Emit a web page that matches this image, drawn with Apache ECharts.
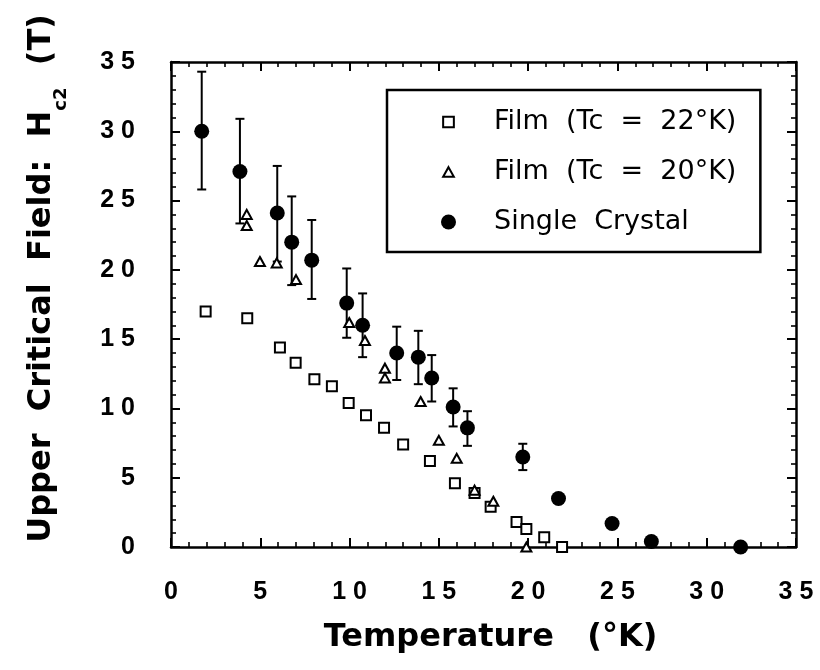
<!DOCTYPE html>
<html>
<head>
<meta charset="utf-8">
<script src="https://cdn.jsdelivr.net/npm/echarts@6/dist/echarts.min.js"></script>
<style>
  html, body { margin: 0; padding: 0; background: #fff; }
  #chart { width: 820px; height: 670px; }
</style>
</head>
<body>
<div id="chart"></div>
<script>
// Upper critical field vs temperature: two films and a single crystal.

// Film with Tc = 22 K
const film22T = [1.94, 4.27, 6.1, 6.98, 8.03, 9.01, 9.95, 10.92, 11.93, 13.0, 14.5, 15.9, 17.0, 17.9, 19.35, 19.9, 20.9, 21.9];
const film22H = [17.0, 16.5, 14.4, 13.3, 12.1, 11.6, 10.4, 9.5, 8.6, 7.4, 6.2, 4.6, 3.9, 2.9, 1.8, 1.3, 0.7, 0.0];

// Film with Tc = 20 K
const film20T = [4.24, 4.24, 4.98, 5.92, 7.0, 9.98, 10.86, 11.98, 11.98, 13.98, 15.0, 16.0, 17.0, 18.05, 19.9];
const film20H = [24.0, 23.2, 20.6, 20.5, 19.3, 16.2, 14.9, 12.9, 12.2, 10.5, 7.7, 6.4, 4.1, 3.3, 0.0];

// Single crystal, with error bar limits (null = no bar)
const crystalT  = [1.72, 3.86, 5.95, 6.76, 7.88, 9.84, 10.73, 12.64, 13.85, 14.6, 15.8, 16.6, 19.7, 21.7, 24.7, 26.9, 31.9];
const crystalH  = [30.0, 27.1, 24.1, 22.0, 20.7, 17.6, 16.0, 14.0, 13.7, 12.2, 10.1, 8.6, 6.5, 3.5, 1.7, 0.4, 0.0];
const crystalHi = [34.3, 30.9, 27.5, 25.3, 23.6, 20.1, 18.3, 15.9, 15.6, 13.85, 11.45, 9.8, 7.45, null, null, null, null];
const crystalLo = [25.8, 23.35, 20.6, 18.9, 17.9, 15.1, 13.7, 12.05, 11.75, 10.5, 8.7, 7.3, 5.55, null, null, null, null];

// Axis ranges and series names
const xRange = [0, 35];
const yRange = [0, 35];
const tickStep = 5;
const seriesNames = ['Film  (Tc  =  22°K)', 'Film  (Tc  =  20°K)', 'Single  Crystal'];

const TICK_FONT = 'Liberation Sans, Arial, Helvetica, sans-serif';
const TEXT_FONT = 'DejaVu Sans, Verdana, sans-serif';

const zip = (xs, ys) => xs.map((x, i) => [x, ys[i]]);
const errData = crystalT
  .map((t, i) => [t, crystalLo[i], crystalHi[i]])
  .filter(d => d[1] !== null && d[2] !== null);

// spaced digits, e.g. "3 5"
const spacedDigits = v => String(v).split('').join(' ');

const hollow = { color: '#fff', borderColor: '#000', borderWidth: 2, opacity: 1 };

// legend icons: invisible move-to points pad the box so the drawn shape is smaller
const squareIcon = 'path://M-2,-2 M12,12 M0,0 L10,0 L10,10 L0,10 Z';
const triangleIcon = 'path://M-2,-2 M12,12 M5,0.5 L10,9.5 L0,9.5 Z';

const frameTick = {
  axisLine: { show: true, onZero: false, lineStyle: { color: '#000', width: 2.5 } },
  axisTick: { show: true, inside: true, length: 9, lineStyle: { color: '#000', width: 2 } },
  minorTick: { show: true, splitNumber: 5, length: 5, lineStyle: { color: '#000', width: 1.6 } },
  splitLine: { show: false },
  minorSplitLine: { show: false }
};

const chart = echarts.init(document.getElementById('chart'), null, { renderer: 'canvas' });

chart.setOption({
  animation: false,
  backgroundColor: '#fff',
  grid: { left: 171, right: 24, top: 62, bottom: 123 },
  xAxis: [
    Object.assign({
      type: 'value', min: xRange[0], max: xRange[1], interval: tickStep, position: 'bottom',
      axisLabel: { show: true, margin: 33, formatter: spacedDigits, fontFamily: TICK_FONT, fontWeight: 'bold', fontSize: 25, color: '#000' },
      name: 'Temperature   (°K)', nameLocation: 'middle', nameGap: 75,
      nameTextStyle: { fontFamily: TEXT_FONT, fontWeight: 'bold', fontSize: 32, color: '#000', padding: [0, 0, 0, 14] }
    }, frameTick),
    Object.assign({
      type: 'value', min: xRange[0], max: xRange[1], interval: tickStep, position: 'top',
      axisLabel: { show: false }
    }, frameTick)
  ],
  yAxis: [
    Object.assign({
      type: 'value', min: yRange[0], max: yRange[1], interval: tickStep, position: 'left',
      axisLabel: { show: true, margin: 36, formatter: spacedDigits, fontFamily: TICK_FONT, fontWeight: 'bold', fontSize: 25, color: '#000' },
      name: '{t|Upper  Critical  Field:  H}{s|c2}{t|  (T)}',
      nameLocation: 'middle', nameGap: 101, nameRotate: 90,
      nameTextStyle: {
        padding: [0, 0, 0, 52],
        rich: {
          t: { fontFamily: TEXT_FONT, fontWeight: 'bold', fontSize: 32, color: '#000', lineHeight: 36 },
          s: { fontFamily: TEXT_FONT, fontWeight: 'bold', fontSize: 18, color: '#000', padding: [38, 0, 0, 0] }
        }
      }
    }, frameTick),
    Object.assign({
      type: 'value', min: yRange[0], max: yRange[1], interval: tickStep, position: 'right',
      axisLabel: { show: false }
    }, frameTick)
  ],
  legend: {
    orient: 'vertical', left: 387, top: 90,
    padding: [17, 24, 15, 53],
    borderColor: '#000', borderWidth: 2.5, borderRadius: 0,
    itemWidth: 15, itemHeight: 15, itemGap: 20,
    selectedMode: false,
    textStyle: { fontFamily: TEXT_FONT, fontSize: 27, color: '#000', lineHeight: 30, padding: [0, 0, 0, 33] },
    data: [
      { name: seriesNames[0], icon: squareIcon, itemStyle: hollow },
      { name: seriesNames[1], icon: triangleIcon, itemStyle: hollow },
      { name: seriesNames[2], icon: 'circle', itemStyle: { color: '#000', borderWidth: 0, opacity: 1 } }
    ]
  },
  series: [
    {
      name: 'error bars', type: 'custom', xAxisIndex: 0, yAxisIndex: 0, z: 2,
      data: errData, encode: { x: 0, y: [1, 2] },
      renderItem: (params, api) => {
        const t = api.value(0);
        const pLo = api.coord([t, api.value(1)]);
        const pHi = api.coord([t, api.value(2)]);
        const cap = 4.5;
        const st = { stroke: '#000', lineWidth: 2 };
        return {
          type: 'group',
          children: [
            { type: 'line', shape: { x1: pLo[0], y1: pLo[1], x2: pHi[0], y2: pHi[1] }, style: st },
            { type: 'line', shape: { x1: pHi[0] - cap, y1: pHi[1], x2: pHi[0] + cap, y2: pHi[1] }, style: st },
            { type: 'line', shape: { x1: pLo[0] - cap, y1: pLo[1], x2: pLo[0] + cap, y2: pLo[1] }, style: st }
          ]
        };
      }
    },
    {
      name: seriesNames[0], type: 'scatter', z: 3,
      data: zip(film22T, film22H),
      symbol: 'rect', symbolSize: 10, itemStyle: hollow
    },
    {
      name: seriesNames[1], type: 'scatter', z: 3,
      data: zip(film20T, film20H),
      symbol: 'triangle', symbolSize: [10, 9], itemStyle: hollow
    },
    {
      name: seriesNames[2], type: 'scatter', z: 4,
      data: zip(crystalT, crystalH),
      symbol: 'circle', symbolSize: 15, itemStyle: { color: '#000', opacity: 1 }
    }
  ]
});
</script>
</body>
</html>
